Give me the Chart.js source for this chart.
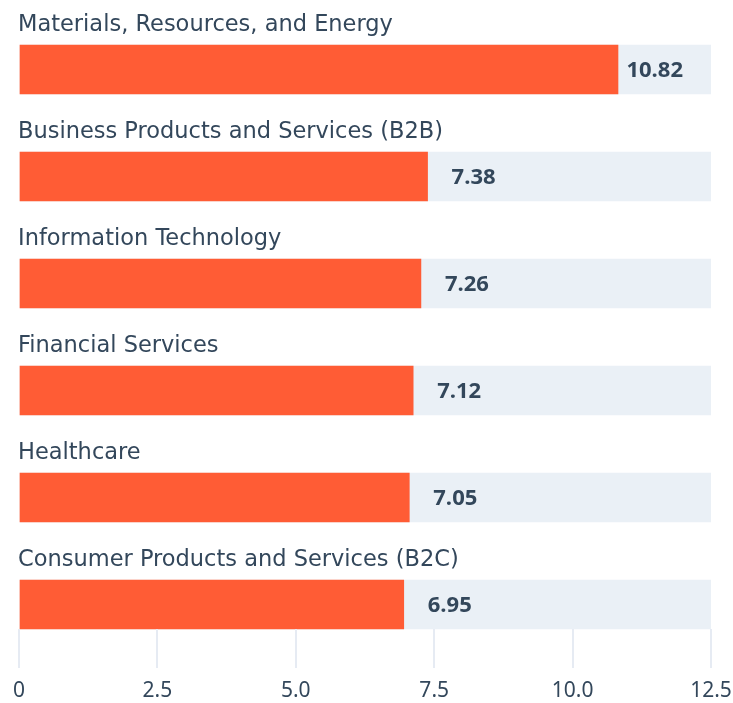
<!DOCTYPE html>
<html>
<head>
<meta charset="utf-8">
<title>Industry scores</title>
<script src="https://cdn.jsdelivr.net/npm/chart.js@4"></script>
<style>
  html, body { margin: 0; padding: 0; background: #ffffff; }
  #wrap { width: 733px; height: 703px; position: relative; }
</style>
</head>
<body>
<div id="wrap"><canvas id="industryChart"></canvas></div>
<script>
// data
const industries = [
    'Materials, Resources, and Energy',
    'Business Products and Services (B2B)',
    'Information Technology',
    'Financial Services',
    'Healthcare',
    'Consumer Products and Services (B2C)'
];
const scores = [10.82, 7.38, 7.26, 7.12, 7.05, 6.95];
const axisMax = 12.5;
const tickValues = [0, 2.5, 5, 7.5, 10, 12.5];
const tickLabels = ['0', '2.5', '5.0', '7.5', '10.0', '12.5'];

const ORANGE = '#ff5c35';
const TRACK = '#eaf0f6';
const GRID = '#e6ebf3';
const TEXT = '#33475b';

Chart.defaults.font.family = '"Noto Sans", sans-serif';
Chart.defaults.color = TEXT;

// category names above the bars, values after the bar end,
// and the grid ticks continued up to the last bar
const barLabels = {
    id: 'barLabels',
    afterDatasetsDraw(chart) {
        const ctx = chart.ctx;
        const area = chart.chartArea;
        const xScale = chart.scales.x;
        const bars = chart.getDatasetMeta(0).data;
        const trackEnd = xScale.getPixelForValue(axisMax);

        ctx.save();
        ctx.textBaseline = 'middle';
        ctx.textAlign = 'left';
        bars.forEach((bar, i) => {
            const p = bar.getProps(['x', 'y', 'height'], true);
            const top = p.y - p.height / 2;

            ctx.font = '22.5px "DejaVu Sans", sans-serif';
            ctx.fillStyle = TEXT;
            ctx.fillText(industries[i], area.left - 1, top - 20);

            ctx.font = 'bold 22px "Open Sans", sans-serif';
            const txt = scores[i].toFixed(2);
            const w = ctx.measureText(txt).width;
            let tx = p.x + 24;
            if (tx + w > trackEnd - 28) tx = trackEnd - 28 - w;
            ctx.fillText(txt, tx, p.y + 1);
        });

        const last = bars[bars.length - 1].getProps(['y', 'height'], true);
        const y0 = last.y + last.height / 2;
        ctx.strokeStyle = GRID;
        ctx.lineWidth = 2;
        tickValues.forEach(v => {
            const px = Math.round(xScale.getPixelForValue(v));
            ctx.beginPath();
            ctx.moveTo(px, y0);
            ctx.lineTo(px, area.bottom);
            ctx.stroke();
        });
        ctx.restore();
    }
};

const ctx = document.getElementById('industryChart').getContext('2d');
new Chart(ctx, {
    type: 'bar',
    data: {
        labels: industries,
        datasets: [{
            label: 'Score',
            data: scores,
            backgroundColor: ORANGE,
            barThickness: 49,
            borderWidth: 0,
            order: 0
        }, {
            label: 'Track',
            data: industries.map(() => axisMax),
            backgroundColor: TRACK,
            barThickness: 49,
            borderWidth: 0,
            order: 1
        }]
    },
    options: {
        indexAxis: 'y',
        responsive: true,
        maintainAspectRatio: false,
        animation: false,
        layout: {
            padding: { top: 16, left: 19, right: 22, bottom: 0 }
        },
        plugins: {
            legend: { display: false },
            tooltip: { enabled: false }
        },
        scales: {
            x: {
                min: 0,
                max: axisMax,
                afterBuildTicks: axis => {
                    axis.ticks = tickValues.map(v => ({ value: v }));
                },
                afterFit: axis => {
                    axis.paddingLeft = 0;
                    axis.paddingRight = 0;
                    axis.height = 45;
                },
                grid: {
                    drawOnChartArea: false,
                    drawTicks: true,
                    tickLength: 10,
                    color: GRID,
                    lineWidth: 2
                },
                border: { display: false },
                ticks: {
                    padding: 10,
                    color: TEXT,
                    font: { size: 21 },
                    maxRotation: 0,
                    callback: (value, index) => tickLabels[index]
                }
            },
            y: {
                display: false
            }
        },
        datasets: {
            bar: { grouped: false }
        }
    },
    plugins: [barLabels]
});
</script>
</body>
</html>
